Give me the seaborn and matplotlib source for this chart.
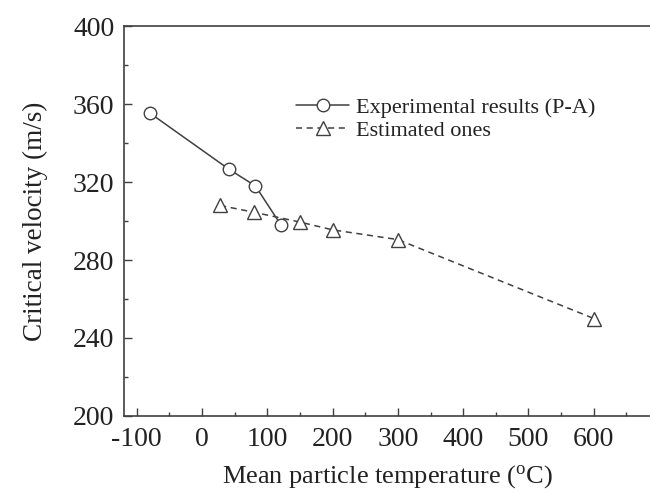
import matplotlib
matplotlib.use("Agg")
import matplotlib.pyplot as plt
import seaborn as sns
import numpy as np
from matplotlib.ticker import MultipleLocator

exp_x = [-80, 41, 82, 121]
exp_y = [355.5, 326.7, 318, 298]
est_x = [28, 80, 150, 200, 300, 600]
est_y = [308, 304.5, 299.5, 295.5, 290.5, 250]

sns.set_style("ticks")
plt.rcParams['font.family'] = ['Liberation Serif', 'DejaVu Serif']
plt.rcParams['mathtext.fontset'] = 'stix'
plt.rcParams['axes.unicode_minus'] = False

fig = plt.figure(figsize=(6.5, 4.94), dpi=100)
ax = fig.add_axes([0.191, 0.158, 0.809, 0.789])

col = '#404040'
sns.lineplot(x=exp_x, y=exp_y, ax=ax, sort=False, color=col, lw=1.1,
             marker='o', markersize=9, markerfacecolor='white',
             markeredgecolor=col, markeredgewidth=1.0,
             label='Experimental results (P-A)')
sns.lineplot(x=est_x, y=est_y, ax=ax, sort=False, color=col, lw=1.1,
             marker='^', markersize=10, markerfacecolor='white',
             markeredgecolor=col, markeredgewidth=1.0,
             label='Estimated ones')
ax.lines[1].set_dashes([4, 3])

ax.set_xlim(-119, 686)
ax.set_ylim(200, 400)
ax.xaxis.set_major_locator(MultipleLocator(100))
ax.xaxis.set_minor_locator(MultipleLocator(50))
ax.yaxis.set_major_locator(MultipleLocator(40))
ax.yaxis.set_minor_locator(MultipleLocator(20))
ax.tick_params(which='both', direction='in', top=False, right=False,
               colors=col, labelcolor='#222222')
ax.tick_params(which='major', length=6, width=1, labelsize=20)
ax.tick_params(axis='x', which='major', pad=8)
ax.tick_params(axis='y', which='major', pad=7)
ax.tick_params(which='minor', length=3, width=1)
for s in ['left', 'bottom', 'top']:
    ax.spines[s].set_color(col)
    ax.spines[s].set_linewidth(1.2)
ax.spines['right'].set_visible(False)
ax.spines['top'].set_visible(True)

ax.set_xlabel('Mean particle temperature ($\\mathregular{^{o}}$C)', fontsize=19, color='#222222', labelpad=8)
ax.set_ylabel('Critical velocity (m/s)', fontsize=19.5, color='#222222', labelpad=18)

leg = ax.legend(loc='upper left', bbox_to_anchor=(0.31, 0.84), frameon=False,
                fontsize=16, handlelength=2.4, handletextpad=0.3,
                labelspacing=0.1, borderaxespad=0)
for t in leg.get_texts():
    t.set_color('#222222')

fig.savefig('out.png', dpi=100)
